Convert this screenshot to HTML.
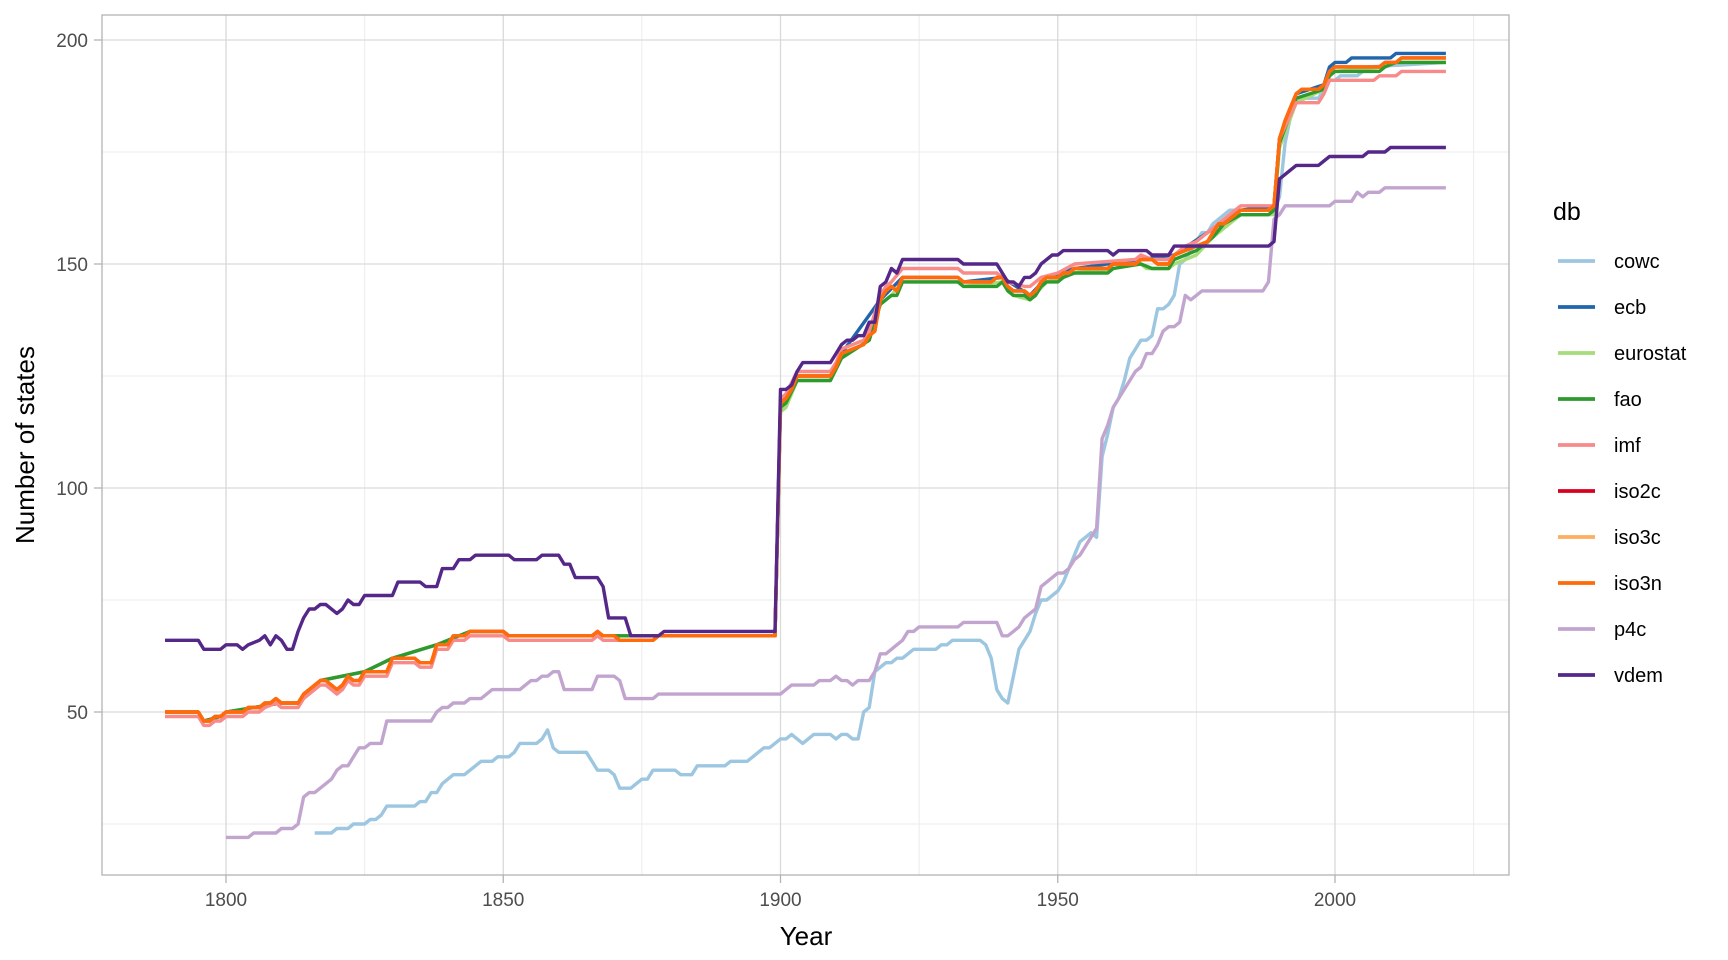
<!DOCTYPE html>
<html><head><meta charset="utf-8"><style>
html,body{margin:0;padding:0;background:#fff}
svg{display:block;font-family:"Liberation Sans",Arial,sans-serif}
</style></head><body>
<svg id="chart" width="1728" height="960" xmlns="http://www.w3.org/2000/svg">
<g id="grid"></g>
<g id="lines"></g>
<rect x="102" y="15" width="1407" height="860" fill="none" stroke="#b3b3b3" stroke-width="1.3"/>
<g id="axes"></g>
<text x="806" y="945" font-size="26" text-anchor="middle" fill="#000">Year</text>
<text transform="translate(34,445) rotate(-90)" font-size="26" text-anchor="middle" fill="#000">Number of states</text>
<g id="legend">
<text x="1553" y="220" font-size="25" fill="#000">db</text>
</g>
</svg>
<script>
const xTicks = [1800, 1850, 1900, 1950, 2000];
const xMinor = [1825, 1875, 1925, 1975, 2025];
const yTicks = [50, 100, 150, 200];
const yMinor = [25, 75, 125, 175];
const seriesNames = ["cowc","ecb","eurostat","fao","imf","iso2c","iso3c","iso3n","p4c","vdem"];
const seriesColors = ["#9dc6e0","#2166ac","#a6dc7a","#2e9a2e","#f88a8a","#d7001f","#fdae61","#ff6a0a","#c2a5cf","#542788"];

const cowcData = [[1816,23],[1819,23],[1820,24],[1822,24],[1823,25],[1825,25],[1826,26],[1827,26],[1828,27],[1829,29],[1834,29],[1835,30],[1836,30],[1837,32],[1838,32],[1839,34],[1840,35],[1841,36],[1843,36],[1844,37],[1846,39],[1848,39],[1849,40],[1851,40],[1852,41],[1853,43],[1856,43],[1857,44],[1858,46],[1859,42],[1860,41],[1865,41],[1867,37],[1869,37],[1870,36],[1871,33],[1873,33],[1874,34],[1875,35],[1876,35],[1877,37],[1881,37],[1882,36],[1884,36],[1885,38],[1890,38],[1891,39],[1894,39],[1895,40],[1896,41],[1897,42],[1898,42],[1899,43],[1900,44],[1901,44],[1902,45],[1903,44],[1904,43],[1905,44],[1906,45],[1909,45],[1910,44],[1911,45],[1912,45],[1913,44],[1914,44],[1915,50],[1916,51],[1917,59],[1918,60],[1919,61],[1920,61],[1921,62],[1922,62],[1923,63],[1924,64],[1928,64],[1929,65],[1930,65],[1931,66],[1936,66],[1937,65],[1938,62],[1939,55],[1940,53],[1941,52],[1942,58],[1943,64],[1944,66],[1945,68],[1946,72],[1947,75],[1948,75],[1949,76],[1950,77],[1951,79],[1952,82],[1953,85],[1954,88],[1955,89],[1956,90],[1957,89],[1958,107],[1959,112],[1960,118],[1961,120],[1962,124],[1963,129],[1964,131],[1965,133],[1966,133],[1967,134],[1968,140],[1969,140],[1970,141],[1971,143],[1972,150],[1973,151],[1974,153],[1975,155],[1976,157],[1977,157],[1978,159],[1979,160],[1980,161],[1981,162],[1989,162],[1990,165],[1991,177],[1992,183],[1993,186],[1994,187],[1997,187],[1998,189],[1999,191],[2000,191],[2001,192],[2004,192],[2005,193],[2006,194],[2020,195]];

const iso3nData = [[1789,50],[1795,50],[1796,48],[1797,48],[1798,49],[1799,49],[1800,50],[1803,50],[1804,51],[1806,51],[1807,52],[1808,52],[1809,53],[1810,52],[1813,52],[1814,54],[1815,55],[1816,56],[1817,57],[1818,57],[1820,55],[1821,56],[1822,58],[1823,57],[1824,57],[1825,59],[1829,59],[1830,62],[1834,62],[1835,61],[1837,61],[1838,65],[1840,65],[1841,67],[1843,67],[1844,68],[1850,68],[1851,67],[1866,67],[1867,68],[1868,67],[1870,67],[1871,66],[1877,66],[1878,67],[1899,67],[1900,119],[1901,120],[1902,122],[1903,125],[1909,125],[1910,127],[1911,130],[1913,131],[1915,132],[1916,134],[1917,135],[1918,142],[1919,144],[1920,145],[1921,144],[1922,147],[1932,147],[1933,146],[1938,146],[1939,147],[1940,147],[1941,145],[1942,144],[1944,144],[1945,143],[1946,144],[1947,146],[1948,147],[1950,147],[1951,148],[1952,148],[1953,149],[1959,149],[1960,150],[1964,150],[1965,151],[1967,151],[1968,150],[1970,150],[1971,152],[1973,153],[1975,154],[1977,155],[1978,157],[1979,159],[1980,159],[1981,160],[1982,161],[1983,162],[1988,162],[1989,163],[1990,178],[1991,182],[1992,185],[1993,188],[1994,189],[1997,189],[1998,190],[1999,193],[2000,194],[2008,194],[2009,195],[2011,195],[2012,196],[2020,196]];

const iso3cData = iso3nData.slice();
const iso2cData = iso3nData.slice();

const ecbData = [[1789,50],[1795,50],[1796,48],[1799,49],[1800,50],[1810,52],[1813,52],[1817,57],[1825,59],[1830,62],[1838,65],[1844,68],[1850,68],[1851,67],[1899,67],[1900,119],[1903,125],[1909,125],[1911,130],[1918,142],[1922,147],[1932,147],[1933,146],[1940,147],[1945,143],[1948,147],[1953,149],[1965,151],[1971,152],[1983,162],[1989,163],[1990,178],[1993,188],[1998,190],[1999,194],[2000,195],[2002,195],[2003,196],[2010,196],[2011,197],[2020,197]];

const faoData = [[1789,50],[1795,50],[1796,48],[1799,49],[1800,50],[1810,52],[1813,52],[1817,57],[1825,59],[1830,62],[1838,65],[1844,68],[1850,68],[1851,67],[1899,67],[1900,118],[1901,119],[1903,124],[1909,124],[1911,129],[1916,133],[1918,141],[1920,143],[1921,143],[1922,146],[1932,146],[1933,145],[1939,145],[1940,146],[1941,144],[1942,143],[1944,143],[1945,142],[1946,143],[1947,145],[1948,146],[1950,146],[1951,147],[1953,148],[1959,148],[1960,149],[1965,150],[1967,149],[1970,149],[1971,151],[1975,153],[1978,156],[1980,159],[1983,161],[1988,161],[1989,162],[1990,177],[1993,187],[1998,189],[1999,192],[2000,193],[2008,193],[2009,194],[2011,195],[2020,195]];

const eurostatData = [[1789,50],[1795,50],[1796,48],[1799,49],[1800,50],[1810,52],[1813,52],[1817,57],[1825,59],[1830,62],[1838,65],[1844,68],[1850,68],[1851,67],[1899,67],[1900,117],[1901,118],[1903,124],[1909,124],[1911,129],[1916,133],[1918,141],[1920,143],[1922,146],[1932,146],[1933,145],[1940,146],[1942,143],[1945,142],[1948,146],[1953,148],[1960,149],[1965,150],[1966,149],[1970,149],[1971,150],[1975,152],[1978,156],[1980,158],[1983,161],[1989,161],[1990,176],[1993,186],[1998,189],[1999,192],[2000,193],[2009,194],[2011,195],[2020,195]];

const imfData = [[1789,49],[1795,49],[1796,47],[1797,47],[1798,48],[1799,48],[1800,49],[1803,49],[1804,50],[1806,50],[1807,51],[1809,52],[1810,51],[1813,51],[1814,53],[1816,55],[1817,56],[1818,56],[1820,54],[1821,55],[1822,57],[1823,56],[1824,56],[1825,58],[1829,58],[1830,61],[1834,61],[1835,60],[1837,60],[1838,64],[1840,64],[1841,66],[1843,66],[1844,67],[1850,67],[1851,66],[1866,66],[1867,67],[1868,66],[1877,66],[1878,67],[1899,67],[1900,120],[1901,121],[1903,126],[1909,126],[1910,128],[1911,131],[1915,133],[1916,135],[1918,143],[1919,145],[1920,146],[1922,149],[1932,149],[1933,148],[1939,148],[1940,147],[1941,146],[1944,145],[1945,145],[1947,147],[1950,148],[1953,150],[1964,151],[1965,152],[1967,151],[1970,151],[1973,154],[1975,155],[1978,158],[1981,161],[1983,163],[1989,163],[1990,178],[1993,186],[1997,186],[1998,188],[1999,191],[2007,191],[2008,192],[2011,192],[2012,193],[2020,193]];

const p4cData = [[1800,22],[1804,22],[1805,23],[1809,23],[1810,24],[1812,24],[1813,25],[1814,31],[1815,32],[1816,32],[1818,34],[1819,35],[1820,37],[1821,38],[1822,38],[1823,40],[1824,42],[1825,42],[1826,43],[1828,43],[1829,48],[1837,48],[1838,50],[1839,51],[1840,51],[1841,52],[1843,52],[1844,53],[1846,53],[1848,55],[1853,55],[1854,56],[1855,57],[1856,57],[1857,58],[1858,58],[1859,59],[1860,59],[1861,55],[1866,55],[1867,58],[1870,58],[1871,57],[1872,53],[1877,53],[1878,54],[1900,54],[1901,55],[1902,56],[1906,56],[1907,57],[1909,57],[1910,58],[1911,57],[1912,57],[1913,56],[1914,57],[1916,57],[1917,59],[1918,63],[1919,63],[1920,64],[1921,65],[1922,66],[1923,68],[1924,68],[1925,69],[1932,69],[1933,70],[1939,70],[1940,67],[1941,67],[1942,68],[1943,69],[1944,71],[1945,72],[1946,73],[1947,78],[1948,79],[1949,80],[1950,81],[1951,81],[1952,82],[1953,84],[1954,85],[1955,87],[1956,89],[1957,91],[1958,111],[1959,114],[1960,118],[1961,120],[1962,122],[1963,124],[1964,126],[1965,127],[1966,130],[1967,130],[1968,132],[1969,135],[1970,136],[1971,136],[1972,137],[1973,143],[1974,142],[1975,143],[1976,144],[1987,144],[1988,146],[1989,160],[1990,161],[1991,163],[1999,163],[2000,164],[2003,164],[2004,166],[2005,165],[2006,166],[2008,166],[2009,167],[2020,167]];

const vdemData = [[1789,66],[1795,66],[1796,64],[1799,64],[1800,65],[1802,65],[1803,64],[1804,65],[1806,66],[1807,67],[1808,65],[1809,67],[1810,66],[1811,64],[1812,64],[1813,68],[1814,71],[1815,73],[1816,73],[1817,74],[1818,74],[1820,72],[1821,73],[1822,75],[1823,74],[1824,74],[1825,76],[1830,76],[1831,79],[1835,79],[1836,78],[1838,78],[1839,82],[1841,82],[1842,84],[1844,84],[1845,85],[1851,85],[1852,84],[1856,84],[1857,85],[1860,85],[1861,83],[1862,83],[1863,80],[1867,80],[1868,78],[1869,71],[1872,71],[1873,67],[1878,67],[1879,68],[1899,68],[1900,122],[1901,122],[1902,123],[1903,126],[1904,128],[1909,128],[1910,130],[1911,132],[1912,133],[1913,133],[1914,134],[1915,134],[1916,137],[1917,137],[1918,145],[1919,146],[1920,149],[1921,148],[1922,151],[1932,151],[1933,150],[1939,150],[1940,148],[1941,146],[1942,146],[1943,145],[1944,147],[1945,147],[1946,148],[1947,150],[1948,151],[1949,152],[1950,152],[1951,153],[1959,153],[1960,152],[1961,153],[1966,153],[1967,152],[1970,152],[1971,154],[1988,154],[1989,155],[1990,169],[1991,170],[1992,171],[1993,172],[1997,172],[1998,173],[1999,174],[2005,174],[2006,175],[2009,175],[2010,176],[2020,176]];

const seriesData = [cowcData, ecbData, eurostatData, faoData, imfData, iso2cData, iso3cData, iso3nData, p4cData, vdemData];

const NS = "http://www.w3.org/2000/svg";
const X0 = 226, X1 = 1335, Y0 = 40, Y1 = 712;
function xScale(v){ return X0 + (v - 1800) * (X1 - X0) / 200; }
function yScale(v){ return Y1 - (v - 50) * (Y1 - Y0) / 150; }
function mk(tag, attrs, parent){ const e = document.createElementNS(NS, tag); for (const k in attrs) e.setAttribute(k, attrs[k]); parent.appendChild(e); return e; }

const grid = document.getElementById('grid');
const axes = document.getElementById('axes');
mk('rect', {x:102, y:15, width:1407, height:860, fill:'#fff'}, grid);
xMinor.forEach(v => { const l = mk('line', {x1:xScale(v), x2:xScale(v), y1:15, y2:875, stroke:'#ebebeb', 'stroke-width':1}, grid);
  
   });
yMinor.forEach(v => { const l = mk('line', {x1:102, x2:1509, y1:yScale(v), y2:yScale(v), stroke:'#ebebeb', 'stroke-width':1}, grid);
  
   });
xTicks.forEach(v => { const l = mk('line', {x1:xScale(v), x2:xScale(v), y1:15, y2:875, stroke:'#d9d9d9', 'stroke-width':1.3}, grid);
  
  
  const t = mk('line', {x1:xScale(v), x2:xScale(v), y1:875, y2:883, stroke:'#b3b3b3', 'stroke-width':1.3}, axes);
  
  
  const tx = mk('text', {x:xScale(v), y:906, 'font-size':19, 'text-anchor':'middle', fill:'#4d4d4d'}, axes);
  tx.textContent = v;
  
   });
yTicks.forEach(v => { const l = mk('line', {x1:102, x2:1509, y1:yScale(v), y2:yScale(v), stroke:'#d9d9d9', 'stroke-width':1.3}, grid);
  
  
  const t = mk('line', {x1:94, x2:102, y1:yScale(v), y2:yScale(v), stroke:'#b3b3b3', 'stroke-width':1.3}, axes);
  
  
  const tx = mk('text', {x:88, y:yScale(v) + 7, 'font-size':19, 'text-anchor':'end', fill:'#4d4d4d'}, axes);
  tx.textContent = v;
  
   });

const lines = document.getElementById('lines');
const legend = document.getElementById('legend');
seriesNames.forEach((name, i) => {
  const pts = seriesData[i].map(p => xScale(p[0]).toFixed(1) + ',' + yScale(p[1]).toFixed(1)).join(' ');
  const pl = mk('polyline', {points:pts, fill:'none', stroke:seriesColors[i], 'stroke-width':3.4, 'stroke-linejoin':'round', 'stroke-linecap':'butt'}, lines);
  
  
  const ly = 261 + i * 46;
  const key = mk('line', {x1:1558, x2:1595, y1:ly, y2:ly, stroke:seriesColors[i], 'stroke-width':3.8}, legend);
  
  
  const lt = mk('text', {x:1614, y:ly + 7, 'font-size':20, fill:'#000'}, legend);
  lt.textContent = name;
  
  
});
</script>
</body></html>
